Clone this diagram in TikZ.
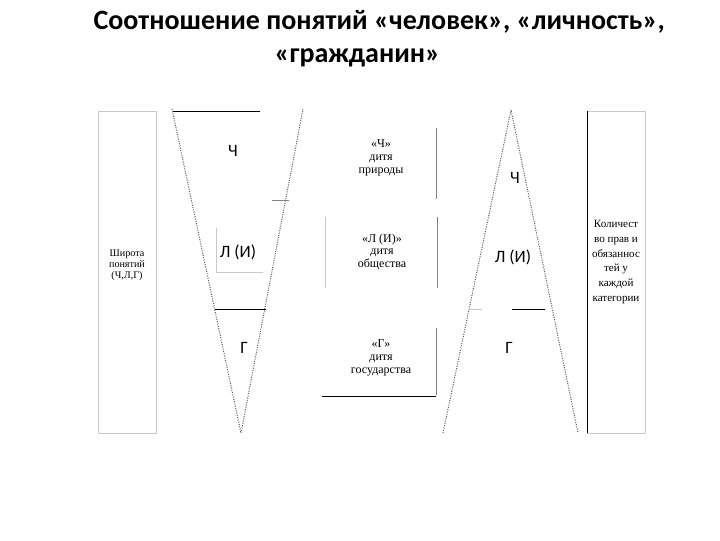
\documentclass[tikz,border=0pt]{standalone}
\usepackage{fontspec}
\setmainfont{Liberation Serif}
\newfontfamily\calibri{Carlito}
\tikzset{every picture/.style={line width=0.75pt}}
\tikzset{
  lightedge/.style={color={rgb, 255:red, 200; green, 200; blue, 200 }},
  midedge/.style={color={rgb, 255:red, 130; green, 130; blue, 130 }},
  darkedge/.style={color={rgb, 255:red, 0; green, 0; blue, 0 }},
  dotedge/.style={color={rgb, 255:red, 90; green, 90; blue, 90 }, densely dotted},
  titletxt/.style={font=\calibri\bfseries\fontsize{21}{25}\selectfont, inner sep=0pt},
  letterlbl/.style={font=\calibri\fontsize{13}{15}\selectfont, inner sep=0.75pt},
  smalltxt/.style={font=\fontsize{7.6}{8.3}\selectfont, align=center, inner sep=0.75pt},
  midtxt/.style={font=\fontsize{9}{9.5}\selectfont, align=center, inner sep=0.75pt},
  righttxt/.style={font=\fontsize{8.3}{11}\selectfont, align=center, inner sep=0.75pt}
}

\begin{document}
\begin{tikzpicture}[x=0.75pt,y=0.75pt,yscale=-1,xscale=1]
\useasboundingbox (0,0) rectangle (720,540);

% Title
\draw (93,29) node (titleA) [anchor=base west, titletxt] {Соотношение понятий «человек», «личность»,};
\draw (274,62) node (titleB) [anchor=base west, titletxt] {«гражданин»};

%Shape: Rectangle (left column)
\draw [lightedge] (98,111) rectangle (156,433) ;
%Shape: Rectangle (right column)
\draw [lightedge] (587,111) rectangle (645,433) ;
\draw [darkedge] (587,111) -- (587,433) ;

%Shape: Inverted triangle
\draw [dotedge] (172,109) -- (241,433) -- (303,109) ;
\draw [darkedge] (173,111) -- (260,111) ;
\draw [midedge] (272,200) -- (289,200) ;
\draw [lightedge] (216,228) -- (216,272) -- (263,272) ;
\draw [darkedge] (215,309) -- (266,309) ;

%Shape: Upright triangle
\draw [dotedge] (443,433) -- (511,110) -- (578,433) ;
\draw [lightedge] (470,309) -- (482,309) ;
\draw [darkedge] (512,309) -- (545,309) ;

%Middle boxes
\draw [midedge] (436,128) -- (436,199) ;
\draw [lightedge] (325,217) -- (325,288) ;
\draw [midedge] (437,217) -- (437,288) ;
\draw [midedge] (436,328) -- (436,395) ;
\draw [darkedge] (322,396) -- (436,396) ;

% Text Node
\draw (127,265) node (widthTxt) [smalltxt] {Широта\\понятий\\(Ч,Л,Г)};
% Text Node
\draw (616,262) node (rightsTxt) [righttxt] {Количест\\во прав и\\обязаннос\\тей у\\каждой\\категории};
% Text Node
\draw (233,151) node (chL) [letterlbl] {Ч};
\draw (238,252) node (liL) [letterlbl] {Л (И)};
\draw (244,348) node (grL) [letterlbl] {Г};
% Text Node
\draw (515,178) node (chR) [letterlbl] {Ч};
\draw (513,257) node (liR) [letterlbl] {Л (И)};
\draw (509,348) node (grR) [letterlbl] {Г};
% Text Node
\draw (381,158) node (natureTxt) [midtxt] {«Ч»\\дитя\\природы};
\draw (382,252) node (societyTxt) [midtxt] {«Л (И)»\\дитя\\общества};
\draw (381,358) node (stateTxt) [midtxt] {«Г»\\дитя\\государства};

\end{tikzpicture}
\end{document}
